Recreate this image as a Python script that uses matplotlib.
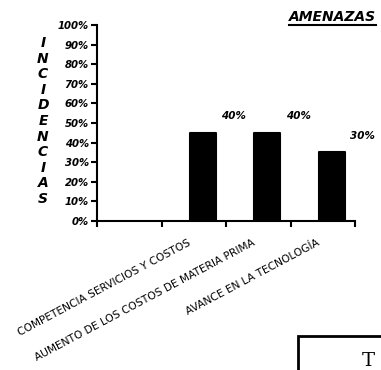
import matplotlib
matplotlib.use("Agg")
import matplotlib.pyplot as plt
from matplotlib.patches import Rectangle
from matplotlib.lines import Line2D
import numpy as np

categories = ["COMPETENCIA SERVICIOS Y COSTOS",
              "AUMENTO DE LOS COSTOS DE MATERIA PRIMA",
              "AVANCE EN LA TECNOLOGÍA"]
values = [40, 40, 30]
value_labels = ["40%", "40%", "30%"]
ytick_vals = [0, 10, 20, 30, 40, 50, 60, 70, 80, 90, 100]
ytick_labels = [f"{v}%" for v in ytick_vals]
title = "AMENAZAS"
ylabel = "INCIDENCIAS"

W, H = 381, 370
fig = plt.figure(figsize=(W / 100, H / 100), dpi=100)
ax = fig.add_axes([97 / W, 1 - 221 / H, (355 - 97) / W, (221 - 25) / H])

slots = np.arange(1, len(categories) + 1)
bar_x = slots + 0.64
depth = 5  # visual 3D cap
ax.bar(bar_x, np.array(values) + depth, width=0.40, color="black",
       edgecolor="black", linewidth=1.5, joinstyle="round")

for x, v, lab in zip(bar_x, values, value_labels):
    ax.text(x + 0.48, v + depth + 6, lab, ha="center", va="bottom",
            fontsize=7.5, fontweight="heavy", fontstyle="italic")

ax.set_xlim(0, 4)
ax.set_ylim(0, 100)
ax.set_yticks(ytick_vals)
ax.set_yticklabels(ytick_labels, fontsize=7.3, fontweight="heavy", fontstyle="italic")
ax.set_xticks(np.arange(0, 5), minor=True)
ax.set_xticks(slots + 0.40)
ax.set_xticklabels(categories, rotation=28, ha="right", va="top",
                   rotation_mode="anchor", fontsize=7.7, family="DejaVu Sans")
ax.tick_params(axis="x", which="major", length=0, pad=12)
ax.tick_params(axis="x", which="minor", length=4, width=1.5, direction="out")
ax.tick_params(axis="y", length=4, width=1.5, pad=2)
for s in ["top", "right"]:
    ax.spines[s].set_visible(False)
for s in ["left", "bottom"]:
    ax.spines[s].set_linewidth(1.5)

# vertical stacked y label
fig.text(43 / W, 1 - 121 / H, "\n".join(ylabel), ha="center", va="center",
         fontsize=10, fontweight="heavy", fontstyle="italic", linespacing=1.14)

# title with underline
t = fig.text(376 / W, 1 - 17 / H, title, ha="right", va="center",
             fontsize=10, fontweight="heavy", fontstyle="italic")
fig.canvas.draw()
bb = t.get_window_extent().transformed(fig.transFigure.inverted())
fig.add_artist(Line2D([bb.x0, bb.x1], [bb.y0 - 0.004, bb.y0 - 0.004],
                      transform=fig.transFigure, color="black", linewidth=1.5))

# scanned page fragment: box with "T"
fig.add_artist(Rectangle((298 / W, -0.05), 0.3, 1 - 336 / H + 0.05,
                         transform=fig.transFigure, fill=False,
                         edgecolor="black", linewidth=2))
fig.text(362 / W, 1 - 370 / H, "T", ha="left", va="bottom", fontsize=14,
         family="DejaVu Serif")

fig.savefig("out.png", dpi=100)
